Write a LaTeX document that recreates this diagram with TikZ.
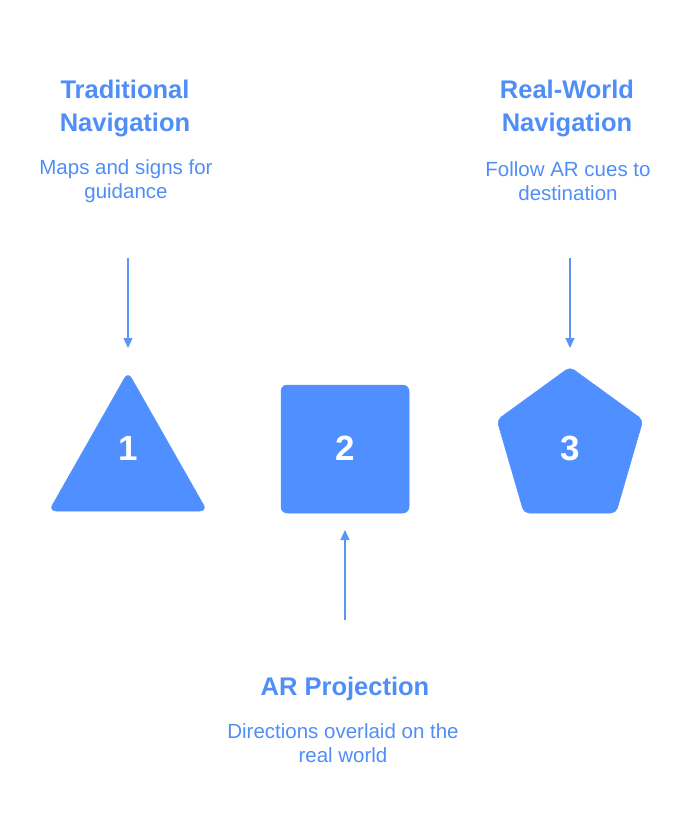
\documentclass[tikz,border=0pt]{standalone}
\usepackage{fontspec}
\setmainfont{Liberation Sans}
\usetikzlibrary{arrows.meta}
\definecolor{shapeblue}{HTML}{4F8FFF}
\definecolor{textblue}{HTML}{4F8EF7}
\definecolor{lineblue}{HTML}{5A95F5}
\tikzset{
  shapefill/.style={fill=shapeblue, draw=shapeblue, line width=0.5pt, rounded corners=7pt},
  numlabel/.style={text=white, font=\fontsize{35}{35}\selectfont\bfseries, inner sep=0pt},
  headtext/.style={text=textblue, font=\fontsize{25.5}{33}\selectfont\bfseries, align=center, inner sep=0pt},
  desctext/.style={text=textblue, font=\fontsize{20.5}{24}\selectfont, align=center, inner sep=0pt},
  conn/.style={draw=lineblue, line width=1.3pt, -{Triangle[length=10pt,width=9pt]}}
}
\begin{document}
\begin{tikzpicture}[x=1pt,y=-1pt]
\useasboundingbox (0,0) rectangle (693,839);
% shapes
\fill[shapefill] (128,372) -- (207,511) -- (49,511) -- cycle;
\fill[shapefill, rounded corners=6pt] (281,385) rectangle (409,513);
\fill[shapefill, rounded corners=5pt] (570,367) -- (643,420) -- (616,513) -- (524,513) -- (497,420) -- cycle;
\node[numlabel] (n1) at (128,448) {1};
\node[numlabel] (n2) at (345,448) {2};
\node[numlabel] (n3) at (570,448) {3};
% anchors for arrows
\coordinate (t1) at (128,348);
\coordinate (s1) at (128,258);
\coordinate (t3) at (570,348);
\coordinate (s3) at (570,258);
\coordinate (t2) at (345,530);
\coordinate (s2) at (345,620);
\draw[conn] (s1) -- (t1);
\draw[conn] (s3) -- (t3);
\draw[conn] (s2) -- (t2);
% texts
\node[headtext] (h1) at (125,108.5) {Traditional\\Navigation};
\node[desctext] (d1) at (126,181.5) {Maps and signs for\\guidance};
\node[headtext] (h3) at (567,108.5) {Real-World\\Navigation};
\node[desctext] (d3) at (568,181.5) {Follow AR cues to\\destination};
\node[headtext] (h2) at (345,689) {AR Projection};
\node[desctext] (d2) at (343,743) {Directions overlaid on the\\real world};
\end{tikzpicture}
\end{document}
